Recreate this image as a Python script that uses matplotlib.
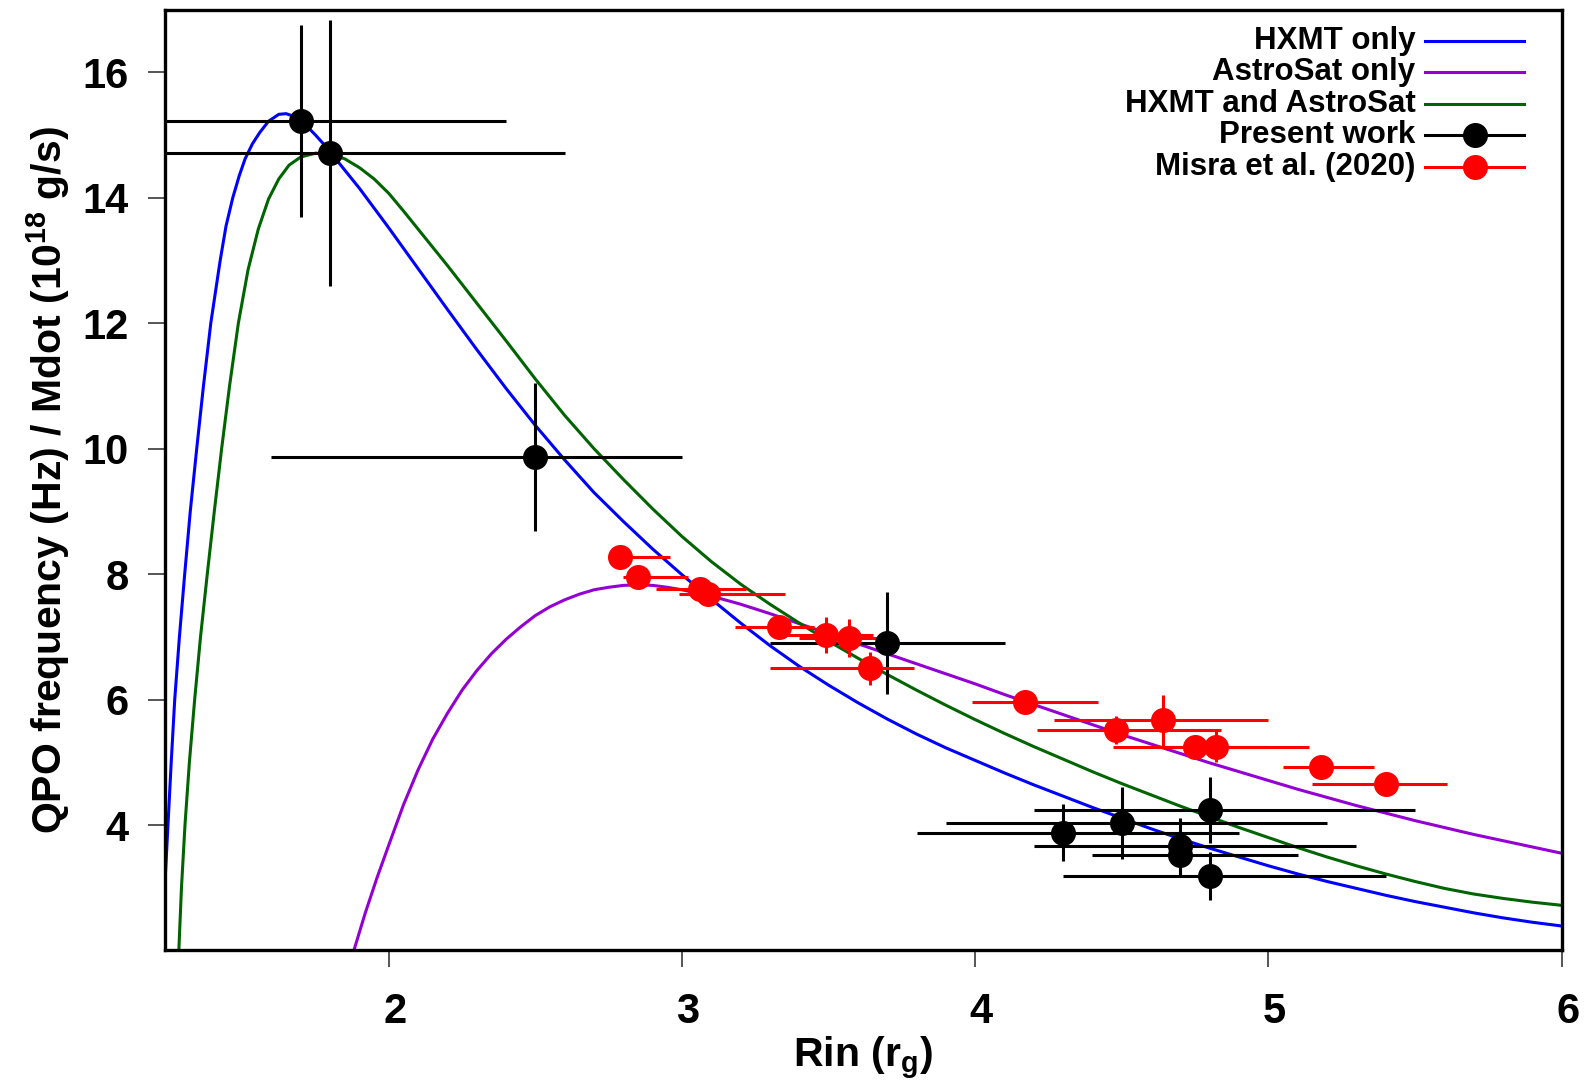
import numpy as np
import matplotlib
matplotlib.use("Agg")
import matplotlib.pyplot as plt
from matplotlib.transforms import ScaledTranslation

plt.rcParams['font.family'] = ['Liberation Sans', 'DejaVu Sans']
plt.rcParams['font.weight'] = 'bold'
plt.rcParams['mathtext.fontset'] = 'custom'
plt.rcParams['mathtext.rm'] = 'Liberation Sans:bold'
plt.rcParams['mathtext.bf'] = 'Liberation Sans:bold'
plt.rcParams['mathtext.default'] = 'rm'

# model curves: QPO frequency / Mdot vs inner radius
hxmt_x = [1.237, 1.247, 1.258, 1.270, 1.286, 1.304, 1.323, 1.345, 1.368, 1.393,
          1.425, 1.445, 1.468, 1.490, 1.510, 1.535, 1.560, 1.590, 1.625, 1.650,
          1.675, 1.700, 1.725, 1.750, 1.775, 1.800, 1.900, 2.000, 2.100, 2.200,
          2.300, 2.400, 2.500, 2.600, 2.700, 2.800, 2.900, 3.000, 3.100, 3.200,
          3.300, 3.400, 3.500, 3.600, 3.700, 3.800, 3.900, 4.000, 4.100, 4.200,
          4.300, 4.400, 4.500, 4.600, 4.700, 4.800, 4.900, 5.000, 5.100, 5.200,
          5.300, 5.400, 5.500, 5.600, 5.700, 5.800, 5.900, 6.000]
hxmt_y = [3.10, 4.00, 5.00, 6.00, 7.00, 8.00, 9.00, 10.00, 11.00, 12.00,
          13.00, 13.55, 14.00, 14.35, 14.62, 14.86, 15.04, 15.22, 15.33, 15.34,
          15.30, 15.22, 15.12, 15.00, 14.87, 14.73, 14.15, 13.52, 12.87, 12.22,
          11.58, 10.96, 10.37, 9.82, 9.30, 8.84, 8.40, 7.99, 7.60, 7.22,
          6.86, 6.53, 6.23, 5.95, 5.69, 5.45, 5.23, 5.03, 4.83, 4.64,
          4.46, 4.28, 4.11, 3.94, 3.78, 3.63, 3.49, 3.35, 3.22, 3.10,
          2.99, 2.88, 2.78, 2.69, 2.60, 2.52, 2.45, 2.39]

astrosat_x = [1.881, 1.920, 1.960, 2.000, 2.050, 2.100, 2.150, 2.200, 2.250, 2.300,
              2.350, 2.400, 2.450, 2.500, 2.550, 2.600, 2.650, 2.700, 2.750, 2.800,
              2.850, 2.900, 2.950, 3.000, 3.100, 3.200, 3.300, 3.400, 3.500, 3.600,
              3.700, 3.800, 3.900, 4.000, 4.100, 4.200, 4.300, 4.400, 4.500, 4.600,
              4.700, 4.800, 4.900, 5.000, 5.100, 5.200, 5.300, 5.400, 5.500, 5.600,
              5.700, 5.800, 5.900, 6.000]
astrosat_y = [2.00, 2.60, 3.16, 3.68, 4.32, 4.88, 5.37, 5.78, 6.15, 6.46,
              6.73, 6.96, 7.16, 7.34, 7.48, 7.59, 7.68, 7.75, 7.79, 7.82,
              7.83, 7.82, 7.79, 7.75, 7.65, 7.52, 7.37, 7.21, 7.05, 6.89,
              6.73, 6.57, 6.41, 6.25, 6.08, 5.92, 5.76, 5.60, 5.44, 5.29,
              5.14, 4.99, 4.85, 4.71, 4.57, 4.44, 4.31, 4.19, 4.07, 3.96,
              3.85, 3.75, 3.65, 3.55]

joint_x = [1.284, 1.293, 1.305, 1.320, 1.338, 1.358, 1.381, 1.405, 1.430, 1.457,
           1.487, 1.520, 1.555, 1.590, 1.625, 1.660, 1.700, 1.750, 1.800, 1.850,
           1.900, 1.950, 2.000, 2.050, 2.100, 2.200, 2.300, 2.400, 2.500, 2.600,
           2.700, 2.800, 2.900, 3.000, 3.100, 3.200, 3.300, 3.400, 3.500, 3.600,
           3.700, 3.800, 3.900, 4.000, 4.100, 4.200, 4.300, 4.400, 4.500, 4.600,
           4.700, 4.800, 4.900, 5.000, 5.100, 5.200, 5.300, 5.400, 5.500, 5.600,
           5.700, 5.800, 5.900, 6.000]
joint_y = [2.00, 3.00, 4.00, 5.00, 6.00, 7.00, 8.00, 9.00, 10.00, 11.00,
           12.00, 12.85, 13.50, 13.98, 14.30, 14.52, 14.65, 14.71, 14.70, 14.62,
           14.48, 14.30, 14.07, 13.79, 13.50, 12.92, 12.32, 11.72, 11.11, 10.53,
           10.00, 9.51, 9.04, 8.60, 8.20, 7.84, 7.52, 7.22, 6.93, 6.66,
           6.40, 6.15, 5.91, 5.68, 5.46, 5.25, 5.05, 4.85, 4.66, 4.48,
           4.30, 4.13, 3.96, 3.80, 3.64, 3.49, 3.35, 3.22, 3.10, 2.99,
           2.90, 2.83, 2.77, 2.72]

# present work
pw_x = [1.7, 1.8, 2.5, 3.7, 4.3, 4.5, 4.7, 4.7, 4.8, 4.8]
pw_y = [15.23, 14.72, 9.87, 6.90, 3.88, 4.03, 3.66, 3.52, 4.24, 3.19]
pw_xlo = [0.7, 0.8, 0.9, 0.4, 0.5, 0.6, 0.5, 0.3, 0.6, 0.5]
pw_xhi = [0.7, 0.8, 0.5, 0.4, 0.6, 0.7, 0.6, 0.4, 0.7, 0.6]
pw_yerr = [1.53, 2.12, 1.18, 0.81, 0.45, 0.57, 0.45, 0.30, 0.53, 0.38]

# Misra et al. (2020)
mi_x = [2.79, 2.85, 3.06, 3.09, 3.33, 3.49, 3.57, 3.64, 4.17, 4.48, 4.64, 4.75, 4.82, 5.18, 5.40]
mi_y = [8.28, 7.96, 7.77, 7.69, 7.16, 7.03, 6.98, 6.50, 5.96, 5.51, 5.67, 5.25, 5.25, 4.93, 4.65]
mi_xlo = [0.04, 0.05, 0.15, 0.10, 0.15, 0.16, 0.17, 0.34, 0.18, 0.27, 0.37, 0.28, 0.20, 0.13, 0.25]
mi_xhi = [0.17, 0.17, 0.16, 0.26, 0.12, 0.16, 0.11, 0.15, 0.25, 0.36, 0.36, 0.25, 0.32, 0.18, 0.21]
mi_yerr = [0.10, 0.10, 0.10, 0.10, 0.10, 0.29, 0.30, 0.26, 0.10, 0.22, 0.41, 0.10, 0.25, 0.10, 0.13]

c_hxmt = '#0000ff'
c_astro = '#9400d3'
c_joint = '#006400'

fig = plt.figure(figsize=(15.87, 10.86), dpi=100)
ax = fig.add_axes([0.104, 0.1248, 0.880, 0.8664])

ax.plot(hxmt_x, hxmt_y, color=c_hxmt, lw=2.2)
ax.plot(astrosat_x, astrosat_y, color=c_astro, lw=2.2)
ax.plot(joint_x, joint_y, color=c_joint, lw=2.2)

ax.errorbar(pw_x, pw_y, xerr=[pw_xlo, pw_xhi], yerr=pw_yerr, fmt='o', color='black',
            ms=17, elinewidth=2.2, capsize=0)
ax.errorbar(mi_x, mi_y, xerr=[mi_xlo, mi_xhi], yerr=mi_yerr, fmt='o', color='#ff0000',
            ms=17, elinewidth=2.2, capsize=0)

ax.set_xlim(1.237, 6.0)
ax.set_ylim(2.0, 17.0)
ax.set_xticks([2, 3, 4, 5, 6])
ax.set_yticks([4, 6, 8, 10, 12, 14, 16])
ax.tick_params(direction='out', length=12, width=1.4, color='#555555',
               labelsize=30, pad=14)
ax.tick_params(axis='x', pad=18)
# x tick labels sit slightly right of their ticks
shift = ScaledTranslation(6 / 100, 0, fig.dpi_scale_trans)
for lab in ax.get_xticklabels():
    lab.set_transform(lab.get_transform() + shift)
for s in ax.spines.values():
    s.set_linewidth(2.4)

ax.set_xlabel(r'Rin (r$_{g}$)', fontsize=29.5, fontweight='bold', labelpad=2)
ax.set_ylabel(r'QPO frequency (Hz) / Mdot (10$^{18}$ g/s)', fontsize=29.5,
              fontweight='bold', labelpad=8)

# key: text right aligned, sample to its right
labels = ['HXMT only', 'AstroSat only', 'HXMT and AstroSat', 'Present work', 'Misra et al. (2020)']
colors = [c_hxmt, c_astro, c_joint, 'black', '#ff0000']
dots = [False, False, False, True, True]
x_txt, x0, x1 = 0.8953, 0.9025, 0.9728
y0, dy = 0.9668, 0.0334
for i, (lab, col, dot) in enumerate(zip(labels, colors, dots)):
    yy = y0 - i * dy
    ax.text(x_txt, yy, lab, transform=ax.transAxes, ha='right', va='center',
            fontsize=22.5, fontweight='bold')
    ax.plot([x0, x1], [yy, yy], transform=ax.transAxes, color=col, lw=2.2, clip_on=False)
    if dot:
        ax.plot([(x0 + x1) / 2], [yy], transform=ax.transAxes, marker='o', ms=17,
                color=col, clip_on=False)

fig.savefig('out.png', dpi=100)
